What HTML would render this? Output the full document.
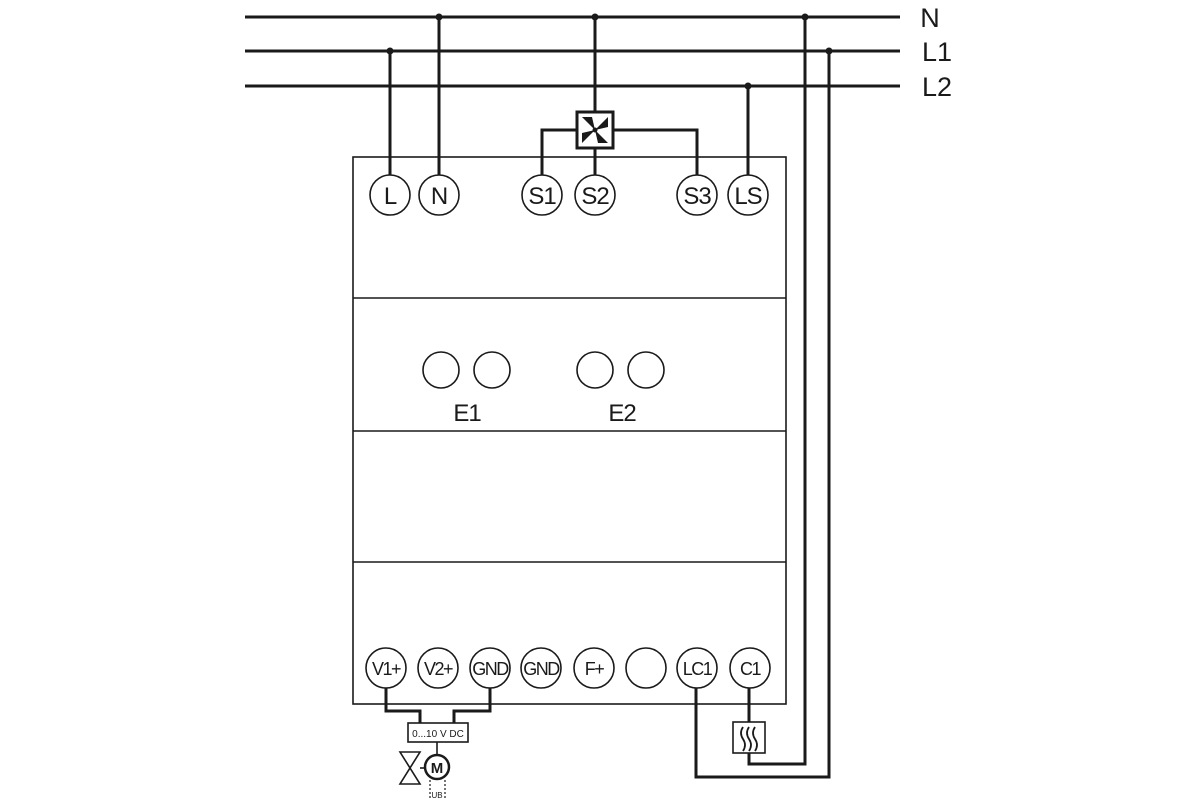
<!DOCTYPE html>
<html><head><style>body{margin:0;background:#fff}svg{display:block}</style></head>
<body>
<svg width="1200" height="800" viewBox="0 0 1200 800" xmlns="http://www.w3.org/2000/svg" font-family="'Liberation Sans', sans-serif">
<g stroke="#1a1a1a" fill="none">
<line x1="245" y1="17" x2="900" y2="17" stroke-width="3"/>
<line x1="245" y1="51" x2="900" y2="51" stroke-width="3"/>
<line x1="245" y1="86" x2="900" y2="86" stroke-width="3"/>
<rect x="353" y="157" width="433" height="547" stroke-width="1.6"/>
<line x1="353" y1="298" x2="786" y2="298" stroke-width="1.6"/>
<line x1="353" y1="431" x2="786" y2="431" stroke-width="1.6"/>
<line x1="353" y1="562" x2="786" y2="562" stroke-width="1.6"/>
<g stroke-width="3">
<line x1="390" y1="51" x2="390" y2="175"/>
<line x1="439" y1="17" x2="439" y2="175"/>
<line x1="595" y1="17" x2="595" y2="112"/>
<line x1="595" y1="148" x2="595" y2="175"/>
<polyline points="577,130 542,130 542,175"/>
<polyline points="613,130 697,130 697,175"/>
<line x1="748" y1="86" x2="748" y2="175"/>
<polyline points="805,17 805,764 749,764 749,753"/>
<line x1="749" y1="688" x2="749" y2="722"/>
<polyline points="829,51 829,777 696,777 696,688"/>
<polyline points="386,688 386,711 420,711 420,723"/>
<polyline points="490,688 490,711 454,711 454,723"/>
</g>
<line x1="437" y1="742" x2="437" y2="755" stroke-width="1.6"/>
<rect x="577" y="112" width="36" height="36" stroke-width="3" fill="#fff"/>
<g stroke-width="1.6" fill="#fff">
<circle cx="390" cy="195" r="20"/><circle cx="439" cy="195" r="20"/>
<circle cx="542" cy="195" r="20"/><circle cx="595" cy="195" r="20"/>
<circle cx="697" cy="195" r="20"/><circle cx="748" cy="195" r="20"/>
<circle cx="441" cy="370" r="18"/><circle cx="492" cy="370" r="18"/>
<circle cx="595" cy="370" r="18"/><circle cx="646" cy="370" r="18"/>
<circle cx="386" cy="668" r="20"/><circle cx="438" cy="668" r="20"/>
<circle cx="490" cy="668" r="20"/><circle cx="541" cy="668" r="20"/>
<circle cx="594" cy="668" r="20"/><circle cx="646" cy="668" r="20"/>
<circle cx="697" cy="668" r="20"/><circle cx="750" cy="668" r="20"/>
<rect x="408" y="723" width="60" height="19"/>
<rect x="733" y="722" width="32" height="31"/>
</g>
<circle cx="437" cy="767" r="12" stroke-width="2.5"/>
<polygon points="400,752 420,752 400,784 420,784" stroke-width="1.6"/>
<line x1="420" y1="768" x2="425" y2="768" stroke-width="1.6"/>
<line x1="430" y1="780" x2="430" y2="800" stroke-width="1.2" stroke-dasharray="2,2"/>
<line x1="445" y1="780" x2="445" y2="800" stroke-width="1.2" stroke-dasharray="2,2"/>
<path d="M743,727 q-4,6 0,12 q4,6 0,12 M749,727 q-4,6 0,12 q4,6 0,12 M755,727 q-4,6 0,12 q4,6 0,12" stroke-width="1.8"/>
</g>
<g fill="#1a1a1a">
<polygon points="595,130 582,117 592,117"/><polygon points="595,130 608,117 608,127"/>
<polygon points="595,130 608,143 598,143"/><polygon points="595,130 582,143 582,133"/>
<circle cx="595" cy="130" r="2.5"/>
</g>
<g fill="#1a1a1a">
<circle cx="390" cy="51" r="3.5"/><circle cx="439" cy="17" r="3.5"/><circle cx="595" cy="17" r="3.5"/>
<circle cx="805" cy="17" r="3.5"/><circle cx="829" cy="51" r="3.5"/><circle cx="748" cy="86" r="3.5"/>
</g>
<g fill="#1a1a1a" font-size="27" text-anchor="middle">
<text x="930" y="27">N</text><text x="937" y="61">L1</text><text x="937" y="96">L2</text>
</g>
<g fill="#1a1a1a" font-size="24" text-anchor="middle" letter-spacing="-1">
<text x="390" y="204">L</text><text x="439" y="204">N</text>
<text x="542" y="204">S1</text><text x="595" y="204">S2</text>
<text x="697" y="204">S3</text><text x="748" y="204">LS</text>
<text x="467" y="421">E1</text><text x="622" y="421">E2</text>
</g>
<g fill="#1a1a1a" font-size="18" text-anchor="middle" letter-spacing="-1.5">
<text x="386" y="675">V1+</text><text x="438" y="675">V2+</text>
<text x="490" y="675">GND</text><text x="541" y="675">GND</text>
<text x="594" y="675">F+</text><text x="697" y="675">LC1</text><text x="750" y="675">C1</text>
</g>
<text x="438" y="737" font-size="10" text-anchor="middle" fill="#1a1a1a">0...10 V DC</text>
<text x="437" y="773" font-size="15" font-weight="bold" text-anchor="middle" fill="#1a1a1a">M</text>
<text x="437" y="798" font-size="8" text-anchor="middle" fill="#1a1a1a">UB</text>
</svg>
</body></html>
